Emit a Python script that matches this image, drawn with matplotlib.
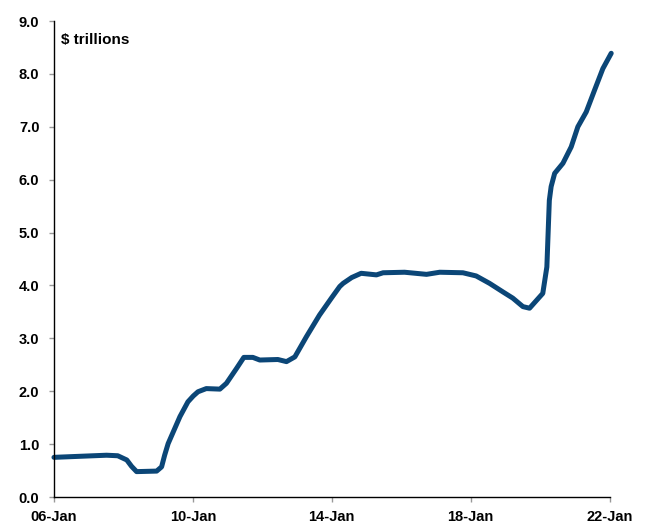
import matplotlib
matplotlib.use("Agg")
import matplotlib.dates as mdates
import numpy as np
import pandas as pd
from matplotlib import pyplot as plt

# values, $ trillions
dates = [
    "2006-01-01", "2007-07-08", "2007-11-03", "2008-02-06", "2008-03-27",
    "2008-05-19", "2008-12-16", "2009-02-06", "2009-03-10", "2009-04-16",
    "2009-08-18", "2009-11-10", "2010-01-05", "2010-02-24", "2010-05-22",
    "2010-10-12", "2010-12-20", "2011-04-05", "2011-06-21", "2011-09-24",
    "2011-12-06", "2012-06-13", "2012-09-12", "2012-12-09", "2013-04-09",
    "2013-08-25", "2013-12-28", "2014-03-26", "2014-05-01", "2014-07-30",
    "2014-11-06", "2015-04-16", "2015-06-25", "2016-02-06", "2016-09-24",
    "2017-02-10", "2017-10-12", "2018-02-28", "2018-07-19", "2018-12-05",
    "2019-03-21", "2019-07-05", "2019-09-13", "2020-01-30", "2020-03-13",
    "2020-04-08", "2020-04-27", "2020-06-03", "2020-08-29", "2020-11-24",
    "2021-02-02", "2021-05-01", "2021-07-27", "2021-10-23", "2022-01-19",
]
balance = [
    0.75, 0.79, 0.78, 0.70, 0.58,
    0.48, 0.49, 0.57, 0.79, 1.01,
    1.52, 1.80, 1.91, 1.99, 2.05,
    2.04, 2.15, 2.43, 2.64, 2.64,
    2.59, 2.60, 2.56, 2.65, 3.03,
    3.44, 3.76, 3.98, 4.04, 4.15,
    4.23, 4.20, 4.24, 4.25, 4.21,
    4.25, 4.24, 4.18, 4.04, 3.88,
    3.76, 3.60, 3.57, 3.85, 4.35,
    5.61, 5.87, 6.12, 6.31, 6.62,
    7.00, 7.28, 7.69, 8.10, 8.39,
]
tick_years = [2006, 2010, 2014, 2018, 2022]

plt.rcParams['font.family'] = ['Liberation Sans', 'DejaVu Sans']
plt.rcParams['font.weight'] = 'bold'

x = pd.to_datetime(dates)

fig = plt.figure(figsize=(6.45, 5.23), dpi=100)
ax = fig.add_axes([0.0837, 0.0497, 0.8623, 0.9101])

ax.plot(x, balance, color='#0b4677', linewidth=3.6, solid_capstyle='round',
        solid_joinstyle='round', clip_on=False)

ax.set_ylim(0, 9)
ax.set_yticks(np.arange(0, 9.5, 1.0))
ax.yaxis.set_major_formatter(plt.FormatStrFormatter('%.1f'))
ax.set_xlim(pd.Timestamp("2006-01-01"), pd.Timestamp("2022-01-08"))
ax.set_xticks([pd.Timestamp(f"{y}-01-01") for y in tick_years])
ax.xaxis.set_major_formatter(mdates.DateFormatter('%y-%b'))

for side in ['top', 'right']:
    ax.spines[side].set_visible(False)
for side in ['left', 'bottom']:
    ax.spines[side].set_linewidth(1.0)
    ax.spines[side].set_color('black')

ax.tick_params(axis='both', direction='out', length=3.5, width=1.0,
               color='#999999', labelsize=10.5, labelcolor='black')
ax.tick_params(axis='y', pad=7)
ax.tick_params(axis='x', pad=6)
for lbl in ax.get_xticklabels() + ax.get_yticklabels():
    lbl.set_fontweight('bold')

ax.text(0.012, 0.96, r'\$ trillions', transform=ax.transAxes,
        fontsize=11, fontweight='bold', va='center', ha='left')

fig.savefig('out.png', dpi=100)
